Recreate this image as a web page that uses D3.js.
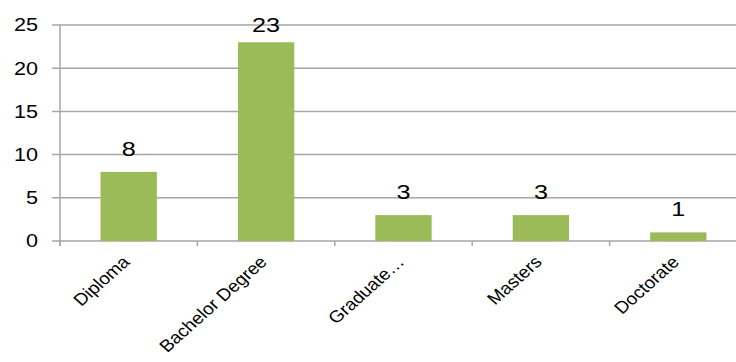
<!DOCTYPE html>
<html>
<head>
<meta charset="utf-8">
<script src="https://cdn.jsdelivr.net/npm/d3@7"></script>
<style>
  body { margin: 0; background: #fff; }
  svg { display: block; font-family: "Liberation Sans", Arial, sans-serif; }
</style>
</head>
<body>
<svg id="graph" width="736" height="362"></svg>
<script>
const categories = ["Diploma", "Bachelor Degree", "Graduate…", "Masters", "Doctorate"];
const counts = [8, 23, 3, 3, 1];
const yTicks = [0, 5, 10, 15, 20, 25];

const margin = { top: 25, left: 60, bottom: 121 };
const width = 736;
const height = 362;
const plotRight = 747;
// the source picture is stretched sideways, so text is too
const stretch = 1.2;

const svg = d3.select("#graph");

const x = d3
  .scaleBand()
  .domain(categories)
  .range([margin.left, plotRight])
  .paddingInner(0.59)
  .paddingOuter(0.295);

const y = d3
  .scaleLinear()
  .domain([0, 25])
  .range([height - margin.bottom, margin.top]);

// gridlines
svg
  .append("g")
  .selectAll("line")
  .data(yTicks)
  .join("line")
  .attr("x1", margin.left - 8)
  .attr("x2", plotRight)
  .attr("y1", (d) => y(d))
  .attr("y2", (d) => y(d))
  .attr("stroke", "#a6a6a6")
  .attr("stroke-width", 1.5);

// y labels
svg
  .append("g")
  .selectAll("text")
  .data(yTicks)
  .join("text")
  .attr("text-anchor", "end")
  .attr("dy", "0.36em")
  .attr("font-size", 18)
  .attr("fill", "#000")
  .attr("transform", (d) => `translate(38,${y(d)}) scale(${stretch},1)`)
  .text((d) => d);

// y axis line
svg
  .append("line")
  .attr("x1", margin.left)
  .attr("x2", margin.left)
  .attr("y1", y(25))
  .attr("y2", y(0) + 5)
  .attr("stroke", "#a6a6a6")
  .attr("stroke-width", 1.5);

// x tick marks at category boundaries
const step = x.step();
const bounds = d3.range(categories.length + 1).map((i) => margin.left + i * step);
svg
  .append("g")
  .selectAll("line")
  .data(bounds)
  .join("line")
  .attr("x1", (d) => d)
  .attr("x2", (d) => d)
  .attr("y1", y(0))
  .attr("y2", y(0) + 5)
  .attr("stroke", "#a6a6a6")
  .attr("stroke-width", 1.5);

// bars
svg
  .append("g")
  .selectAll("rect")
  .data(counts)
  .join("rect")
  .attr("x", (d, i) => x(categories[i]))
  .attr("width", x.bandwidth())
  .attr("y", (d) => y(d))
  .attr("height", (d) => y(0) - y(d))
  .attr("fill", "#9bbb59");

// value labels (kept inside the chart at the top)
svg
  .append("g")
  .selectAll("text")
  .data(counts)
  .join("text")
  .attr("text-anchor", "middle")
  .attr("font-size", 21)
  .attr("fill", "#000")
  .attr(
    "transform",
    (d, i) =>
      `translate(${x(categories[i]) + x.bandwidth() / 2},${Math.max(y(d) - 16, 32)}) scale(${stretch},1)`
  )
  .text((d) => d);

// category labels, rotated
svg
  .append("g")
  .selectAll("text")
  .data(categories)
  .join("text")
  .attr("text-anchor", "end")
  .attr("font-size", 17)
  .attr("fill", "#000")
  .attr(
    "transform",
    (d) =>
      `translate(${x(d) + x.bandwidth() / 2 + 2},${y(0) + 22}) scale(1.12,1) rotate(-45)`
  )
  .text((d) => d);
</script>
</body>
</html>
